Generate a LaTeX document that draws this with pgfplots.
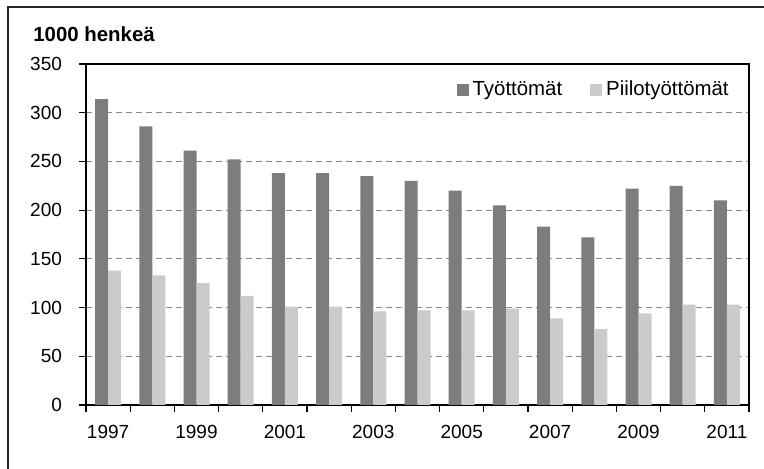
\documentclass[border=0pt]{standalone}
\usepackage{fontspec}
\setmainfont{Liberation Sans}
\usepackage{pgfplots}
\usepackage{pgfplotstable}
\pgfplotsset{compat=1.18}

\definecolor{darkbar}{HTML}{7D7D7D}
\definecolor{lightbar}{HTML}{CBCBCB}
\definecolor{gridgray}{HTML}{8A8A8A}

% 1000 henkeä
\pgfplotstableread{
year tyottomat piilo
1997 314 138
1998 286 133
1999 261 125
2000 252 112
2001 238 101
2002 238 101
2003 235 96
2004 230 97
2005 220 97
2006 205 99
2007 183 89
2008 172 78
2009 222 94
2010 225 103
2011 210 103
}\datatable

\begin{document}
\begin{tikzpicture}
\path[use as bounding box] (0,0) rectangle (382pt,234.5pt);
\draw[line width=0.8pt, black!85] (4pt,-2pt) -- (4pt,231pt) -- (384pt,231pt);
\node[anchor=base west, inner sep=0pt, font=\fontsize{10.2}{12}\selectfont\bfseries] at (16.5pt,213.7pt) {1000 henkeä};
\begin{axis}[
    at={(43pt,32pt)}, anchor=south west,
    scale only axis, width=331.5pt, height=170.5pt,
    ybar=0pt, bar width=6.5pt,
    xmin=1996.5, xmax=2011.5, ymin=0, ymax=350,
    xtick={1997,1999,...,2011},
    xticklabels={1997,1999,2001,2003,2005,2007,2009,2011},
    minor xtick={1996.5,1997.5,...,2011.5},
    ytick={0,50,...,350},
    major x tick style={draw=none},
    tick align=outside, tick pos=left,
    major tick length=3.5pt, minor tick length=3.5pt,
    tick style={black, line width=0.6pt},
    axis line style={black, line width=0.6pt},
    ymajorgrids,
    grid style={gridgray, line width=0.5pt, dash pattern=on 3pt off 2pt},
    /pgf/number format/assume math mode=true,
    tick label style={font=\fontsize{9.5}{11}\selectfont},
    yticklabel style={xshift=-5pt},
    xticklabel style={yshift=-3pt},
    legend columns=2,
    legend style={at={(0.985,0.975)}, anchor=north east, draw=none, fill=none,
        font=\fontsize{10.2}{12}\selectfont,
        /tikz/every even column/.append style={column sep=12pt}},
    legend cell align=left,
    legend image code/.code={\fill[#1] (0pt,-3pt) rectangle (6pt,3pt);},
]
\addplot[fill=darkbar, draw=none] table[x=year, y=tyottomat]{\datatable};
\addlegendentry{Työttömät}
\addplot[fill=lightbar, draw=none] table[x=year, y=piilo]{\datatable};
\addlegendentry{Piilotyöttömät}
\end{axis}
\end{tikzpicture}
\end{document}
